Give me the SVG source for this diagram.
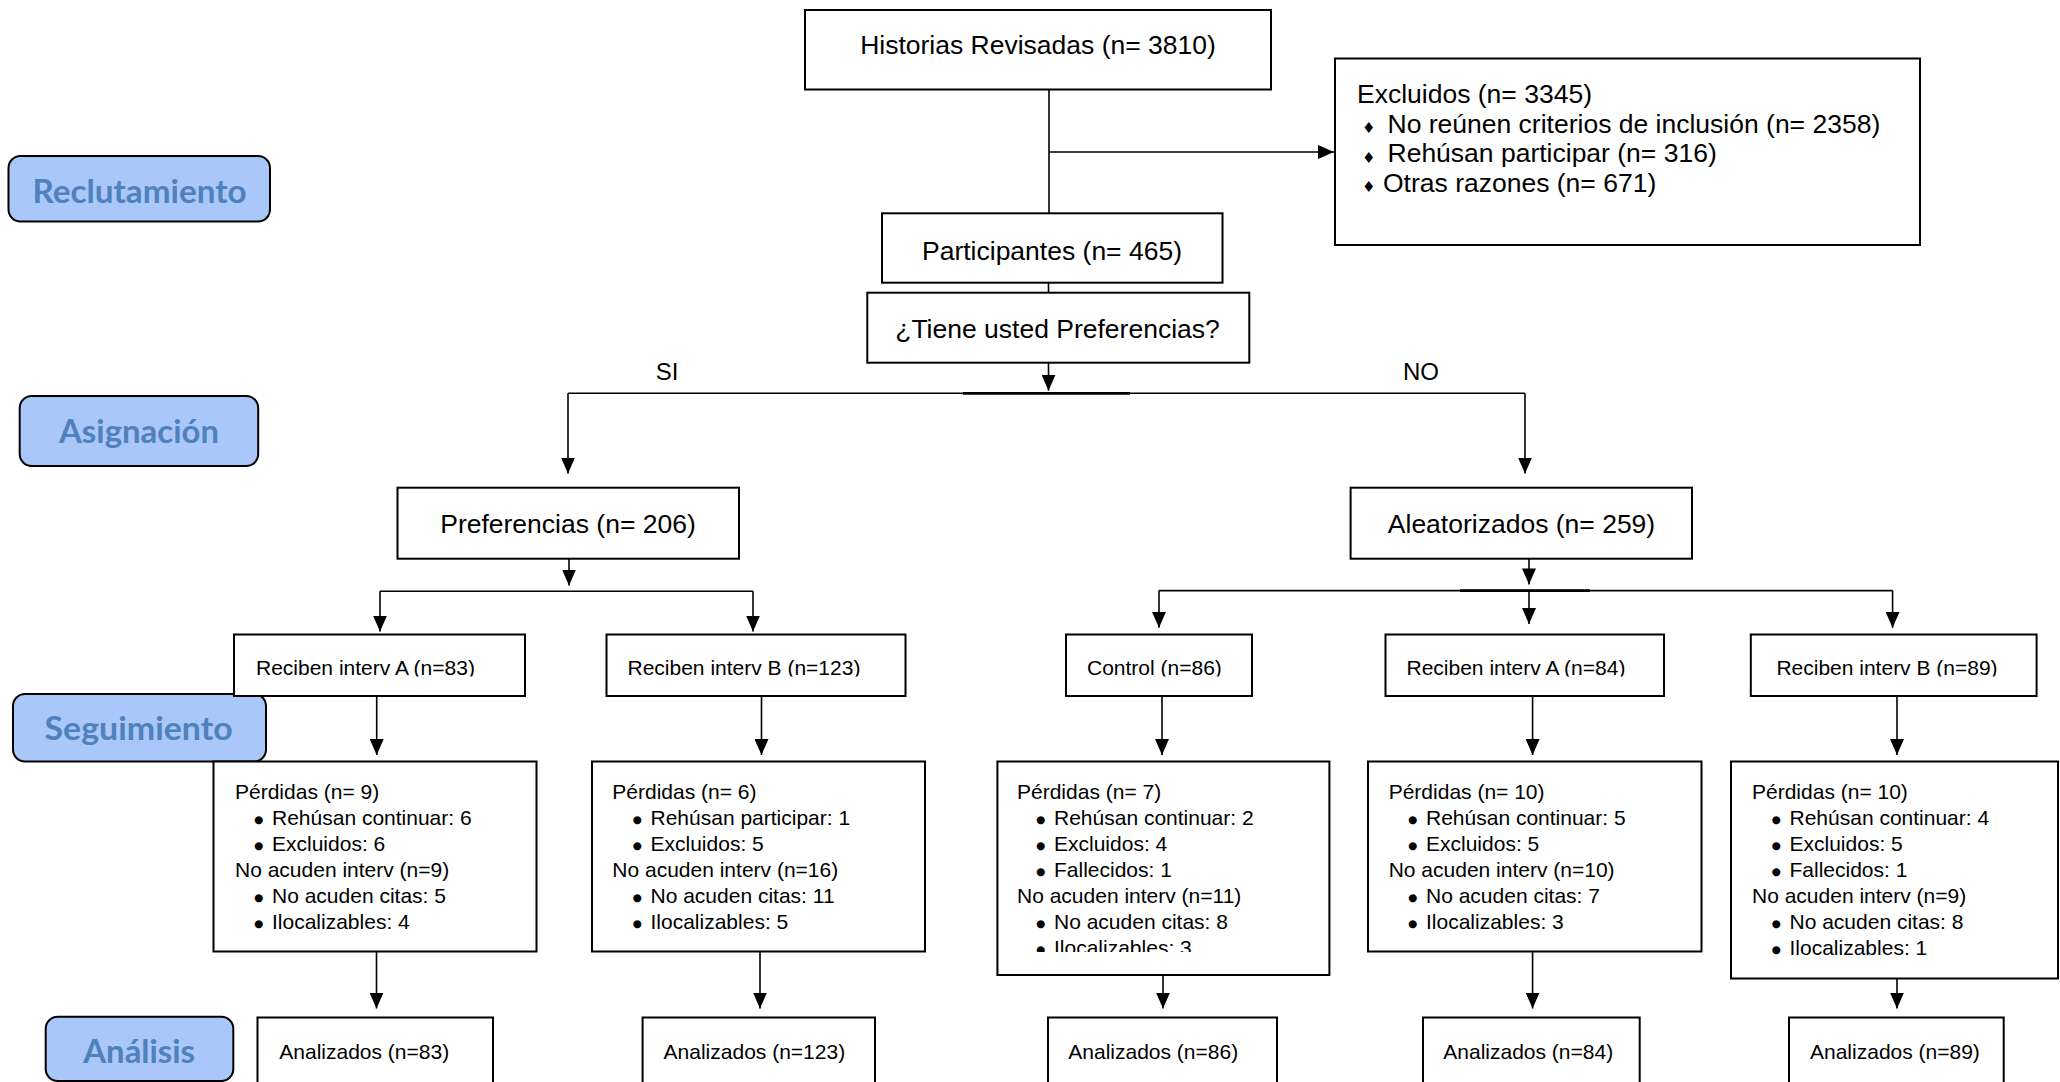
<svg xmlns="http://www.w3.org/2000/svg" width="2060" height="1082" viewBox="0 0 2060 1082">
<defs>
<marker id="ah" viewBox="0 0 16 14" refX="16" refY="7" markerWidth="16" markerHeight="14" markerUnits="userSpaceOnUse" orient="auto"><path d="M0,0 L16,7 L0,14 z" fill="#000"/></marker>
<clipPath id="clipRow" clipPathUnits="userSpaceOnUse"><rect x="0" y="630" width="2060" height="46.5"/></clipPath>
<clipPath id="clipCtl" clipPathUnits="userSpaceOnUse"><rect x="990" y="760" width="345" height="192"/></clipPath>
</defs>
<style>
.box{fill:#fff;stroke:#000;stroke-width:2}
.lbl{fill:#a9c7f9;stroke:#000;stroke-width:2}
.lt{font-family:Lato,"Open Sans","DejaVu Sans",sans-serif;font-weight:bold;font-size:33px;fill:#4f81bd;text-anchor:middle}
.t26{font-family:"Liberation Sans",Arial,sans-serif;font-size:26.5px;fill:#000}
.t24{font-family:"Liberation Sans",Arial,sans-serif;font-size:24px;fill:#000}
.t21{font-family:"Liberation Sans",Arial,sans-serif;font-size:21px;fill:#000}
.b{font-family:"DejaVu Sans",sans-serif;font-size:10.5px;fill:#000}
.dia{font-family:"DejaVu Sans",sans-serif;font-size:15px;fill:#000}
.c{text-anchor:middle}
.con{fill:none;stroke:#000;stroke-width:1.6}
.thk{fill:none;stroke:#000;stroke-width:2.8}
.arr{marker-end:url(#ah)}
</style>
<rect x="0" y="0" width="2060" height="1082" fill="#fff"/>

<!-- stage labels -->
<g id="lbl-reclutamiento"><rect class="lbl" x="8.5" y="156" width="261.5" height="65.5" rx="12"/><text class="lt" x="139.5" y="203" textLength="214" lengthAdjust="spacingAndGlyphs">Reclutamiento</text></g>
<g id="lbl-asignacion"><rect class="lbl" x="19.7" y="396" width="238.5" height="70" rx="12"/><text class="lt" x="139" y="443" textLength="160" lengthAdjust="spacingAndGlyphs">Asignación</text></g>
<g id="lbl-seguimiento"><rect class="lbl" x="13" y="694" width="253" height="67.5" rx="12"/><text class="lt" x="138.6" y="740" textLength="188" lengthAdjust="spacingAndGlyphs">Seguimiento</text></g>
<g id="lbl-analisis"><rect class="lbl" x="45.7" y="1016.7" width="187.6" height="64.3" rx="12"/><text class="lt" x="139.2" y="1063" textLength="111.7" lengthAdjust="spacingAndGlyphs">Análisis</text></g>

<!-- connectors -->
<g id="connectors">
<path class="con" d="M1049,89.5 V213.3"/>
<path class="con arr" d="M1049,152 H1334"/>
<path class="con" d="M1048.5,282.7 V292.7"/>
<path class="con arr" d="M1048.5,362.7 V390.7"/>
<path class="con" d="M568,393.3 H1525"/>
<path class="thk" d="M963,393.3 H1130"/>
<path class="con arr" d="M568,393.3 V473.5"/>
<path class="con arr" d="M1525,393.3 V473.5"/>
<path class="con arr" d="M569,558.7 V585.6"/>
<path class="con" d="M380,591.3 H753"/>
<path class="con arr" d="M380,591.3 V631.6"/>
<path class="con arr" d="M753,591.3 V631.6"/>
<path class="con arr" d="M1529,558.7 V584.4"/>
<path class="con" d="M1159,590.6 H1892.6"/>
<path class="thk" d="M1460,590.6 H1590"/>
<path class="con arr" d="M1159,590.6 V627.8"/>
<path class="con arr" d="M1529,590.6 V624"/>
<path class="con arr" d="M1892.6,590.6 V627.8"/>
<path class="con arr" d="M376.7,696 V755"/>
<path class="con arr" d="M761.5,696 V755"/>
<path class="con arr" d="M1162,696 V755"/>
<path class="con arr" d="M1532.6,696 V755"/>
<path class="con arr" d="M1897,696 V755"/>
<path class="con arr" d="M376.5,951.5 V1008.5"/>
<path class="con arr" d="M760,951.5 V1008.5"/>
<path class="con arr" d="M1163,975 V1008.5"/>
<path class="con arr" d="M1532.6,951.5 V1008.5"/>
<path class="con arr" d="M1897,978.3 V1008.5"/>
<text class="t24 c" x="667" y="380">SI</text>
<text class="t24 c" x="1421" y="380">NO</text>
</g>

<!-- nodes -->
<g id="historias"><rect class="box" x="805" y="10" width="466" height="79.5"/><text class="t26 c" x="1038" y="53.5">Historias Revisadas (n= 3810)</text></g>
<g id="excluidos"><rect class="box" x="1335" y="58.5" width="585" height="186.5"/>
<text class="t26" x="1357" y="103">Excluidos (n= 3345)</text>
<text class="dia" x="1362" y="133">♦</text><text class="t26" x="1387.5" y="132.5">No reúnen criterios de inclusión (n= 2358)</text>
<text class="dia" x="1362" y="162.5">♦</text><text class="t26" x="1387.5" y="162">Rehúsan participar (n= 316)</text>
<text class="dia" x="1362" y="192">♦</text><text class="t26" x="1383" y="191.5">Otras razones (n= 671)</text>
</g>
<g id="participantes"><rect class="box" x="882" y="213.3" width="340.5" height="69.4"/><text class="t26 c" x="1052" y="260">Participantes (n= 465)</text></g>
<g id="pregunta"><rect class="box" x="867.3" y="292.7" width="382" height="70"/><text class="t26 c" x="1057.5" y="338">¿Tiene usted Preferencias?</text></g>
<g id="preferencias"><rect class="box" x="397.5" y="487.7" width="341.5" height="71"/><text class="t26 c" x="568" y="533">Preferencias (n= 206)</text></g>
<g id="aleatorizados"><rect class="box" x="1350.6" y="487.7" width="341.4" height="71"/><text class="t26 c" x="1521.5" y="533">Aleatorizados (n= 259)</text></g>

<g id="pref-a"><rect class="box" x="234" y="634.5" width="291" height="61.5"/><text class="t21" x="256" y="675" clip-path="url(#clipRow)">Reciben interv A (n=83)</text></g>
<g id="pref-b"><rect class="box" x="606.5" y="634.5" width="299" height="61.5"/><text class="t21" x="627.5" y="675" clip-path="url(#clipRow)">Reciben interv B (n=123)</text></g>
<g id="ale-control"><rect class="box" x="1066" y="634.5" width="186" height="61.5"/><text class="t21" x="1087" y="675" clip-path="url(#clipRow)">Control (n=86)</text></g>
<g id="ale-a"><rect class="box" x="1385.5" y="634.5" width="278.5" height="61.5"/><text class="t21" x="1406.5" y="675" clip-path="url(#clipRow)">Reciben interv A (n=84)</text></g>
<g id="ale-b"><rect class="box" x="1750.8" y="634.5" width="285.8" height="61.5"/><text class="t21" x="1776.4" y="675" clip-path="url(#clipRow)">Reciben interv B (n=89)</text></g>

<g id="perd-pref-a"><rect class="box" x="213.5" y="761.5" width="323" height="190"/>
<text class="t21" x="235" y="799">Pérdidas (n= 9)</text>
<text class="b" x="254" y="822.5">●</text><text class="t21" x="272" y="825">Rehúsan continuar: 6</text>
<text class="b" x="254" y="848.5">●</text><text class="t21" x="272" y="851">Excluidos: 6</text>
<text class="t21" x="235" y="877">No acuden interv (n=9)</text>
<text class="b" x="254" y="900.5">●</text><text class="t21" x="272" y="903">No acuden citas: 5</text>
<text class="b" x="254" y="926.5">●</text><text class="t21" x="272" y="929">Ilocalizables: 4</text>
</g>
<g id="perd-pref-b"><rect class="box" x="592" y="761.5" width="333" height="190"/>
<text class="t21" x="612.3" y="799">Pérdidas (n= 6)</text>
<text class="b" x="632.5" y="822.5">●</text><text class="t21" x="650.5" y="825">Rehúsan participar: 1</text>
<text class="b" x="632.5" y="848.5">●</text><text class="t21" x="650.5" y="851">Excluidos: 5</text>
<text class="t21" x="612.3" y="877">No acuden interv (n=16)</text>
<text class="b" x="632.5" y="900.5">●</text><text class="t21" x="650.5" y="903">No acuden citas: 11</text>
<text class="b" x="632.5" y="926.5">●</text><text class="t21" x="650.5" y="929">Ilocalizables: 5</text>
</g>
<g id="perd-control"><rect class="box" x="997.4" y="761.5" width="332" height="213.5"/>
<g clip-path="url(#clipCtl)">
<text class="t21" x="1017" y="799">Pérdidas (n= 7)</text>
<text class="b" x="1036" y="822.5">●</text><text class="t21" x="1054" y="825">Rehúsan continuar: 2</text>
<text class="b" x="1036" y="848.5">●</text><text class="t21" x="1054" y="851">Excluidos: 4</text>
<text class="b" x="1036" y="874.5">●</text><text class="t21" x="1054" y="877">Fallecidos: 1</text>
<text class="t21" x="1017" y="903">No acuden interv (n=11)</text>
<text class="b" x="1036" y="926.5">●</text><text class="t21" x="1054" y="929">No acuden citas: 8</text>
<text class="b" x="1036" y="952.5">●</text><text class="t21" x="1054" y="955">Ilocalizables: 3</text>
</g>
</g>
<g id="perd-ale-a"><rect class="box" x="1368" y="761.5" width="333.5" height="190"/>
<text class="t21" x="1388.7" y="799">Pérdidas (n= 10)</text>
<text class="b" x="1408" y="822.5">●</text><text class="t21" x="1426" y="825">Rehúsan continuar: 5</text>
<text class="b" x="1408" y="848.5">●</text><text class="t21" x="1426" y="851">Excluidos: 5</text>
<text class="t21" x="1388.7" y="877">No acuden interv (n=10)</text>
<text class="b" x="1408" y="900.5">●</text><text class="t21" x="1426" y="903">No acuden citas: 7</text>
<text class="b" x="1408" y="926.5">●</text><text class="t21" x="1426" y="929">Ilocalizables: 3</text>
</g>
<g id="perd-ale-b"><rect class="box" x="1731" y="761.5" width="327" height="217"/>
<text class="t21" x="1752" y="799">Pérdidas (n= 10)</text>
<text class="b" x="1771.5" y="822.5">●</text><text class="t21" x="1789.5" y="825">Rehúsan continuar: 4</text>
<text class="b" x="1771.5" y="848.5">●</text><text class="t21" x="1789.5" y="851">Excluidos: 5</text>
<text class="b" x="1771.5" y="874.5">●</text><text class="t21" x="1789.5" y="877">Fallecidos: 1</text>
<text class="t21" x="1752" y="903">No acuden interv (n=9)</text>
<text class="b" x="1771.5" y="926.5">●</text><text class="t21" x="1789.5" y="929">No acuden citas: 8</text>
<text class="b" x="1771.5" y="952.5">●</text><text class="t21" x="1789.5" y="955">Ilocalizables: 1</text>
</g>

<g id="anal-pref-a"><rect class="box" x="257.5" y="1017.5" width="235.5" height="80"/><text class="t21" x="279.3" y="1058.5">Analizados (n=83)</text></g>
<g id="anal-pref-b"><rect class="box" x="642.6" y="1017.5" width="232.4" height="80"/><text class="t21" x="663.6" y="1058.5">Analizados (n=123)</text></g>
<g id="anal-control"><rect class="box" x="1048" y="1017.5" width="229" height="80"/><text class="t21" x="1068.3" y="1058.5">Analizados (n=86)</text></g>
<g id="anal-ale-a"><rect class="box" x="1423" y="1017.5" width="216.7" height="80"/><text class="t21" x="1443.3" y="1058.5">Analizados (n=84)</text></g>
<g id="anal-ale-b"><rect class="box" x="1789" y="1017.5" width="214.7" height="80"/><text class="t21" x="1810" y="1058.5">Analizados (n=89)</text></g>
</svg>
